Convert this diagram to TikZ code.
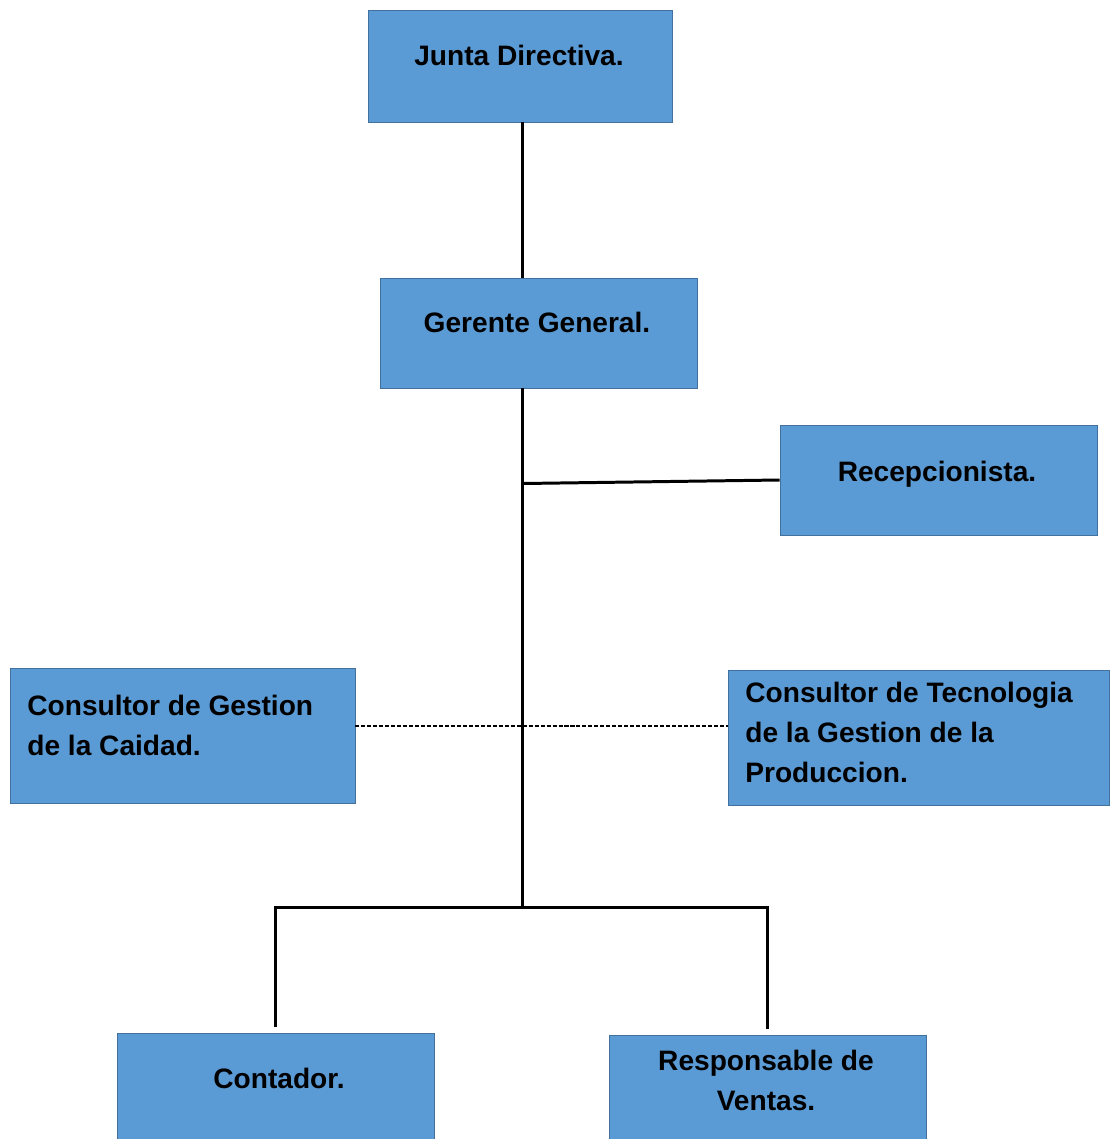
\documentclass[tikz,border=0pt]{standalone}
\usepackage{fontspec}
\setmainfont{Liberation Sans}
\usepackage{tikz}
\definecolor{cajaazul}{HTML}{5B9BD5}
\definecolor{bordeazul}{HTML}{41719C}

\begin{document}
\begin{tikzpicture}[x=0.02cm, y=-0.02cm,
    caja/.style={draw=bordeazul, fill=cajaazul, line width=0.5pt, inner sep=0pt},
    texto/.style={font=\fontsize{16}{22.7}\selectfont\bfseries, inner sep=0pt, anchor=base},
    linea/.style={line width=1.7pt}]
    \useasboundingbox (0, 0) rectangle (1109, 1139);

    % Boxes
    \node [caja, minimum width=6.08cm, minimum height=2.24cm] (junta) at (520, 66) {};
    \node [caja, minimum width=6.34cm, minimum height=2.2cm] (gerente) at (538.5, 333) {};
    \node [caja, minimum width=6.34cm, minimum height=2.2cm] (recep) at (938.5, 480) {};
    \node [caja, minimum width=6.9cm, minimum height=2.7cm] (calidad) at (182.5, 735.5) {};
    \node [caja, minimum width=7.62cm, minimum height=2.7cm] (tecno) at (918.5, 737.5) {};
    \node [caja, minimum width=6.34cm, minimum height=2.54cm] (contador) at (275.5, 1096.5) {};
    \node [caja, minimum width=6.34cm, minimum height=2.5cm] (ventas) at (767.5, 1097.5) {};

    % Texts (multi-line: base = last line)
    \node [texto] at (519, 65) {Junta Directiva.};
    \node [texto] at (537, 332) {Gerente General.};
    \node [texto] at (937, 481) {Recepcionista.};
    \node [texto, anchor=base west, align=left] at (27, 755) {Consultor de Gestion\\de la Caidad.};
    \node [texto, anchor=base west, align=left] at (745, 782) {Consultor de Tecnologia\\de la Gestion de la\\Produccion.};
    \node [texto] at (279, 1088) {Contador.};
    \node [texto, align=center] at (766, 1110) {Responsable de\\Ventas.};

    % Lines
    \coordinate (hub) at (522, 907);
    \coordinate (punteo) at (522, 726);
    \draw [linea] (junta.south -| hub) -- (gerente.north -| hub);
    \draw [linea] (gerente.south -| hub) -- (hub);
    \draw [linea] ([yshift=-2pt]recep.west -| hub) -- (recep.west);
    \draw [line width=0.8pt, dash pattern=on 2.3pt off 1.1pt] (punteo -| calidad.east) -- (punteo -| tecno.west);
    \draw [linea] ([yshift=3pt]contador.north) |- (hub) -| ([yshift=3pt]ventas.north);
\end{tikzpicture}
\end{document}
